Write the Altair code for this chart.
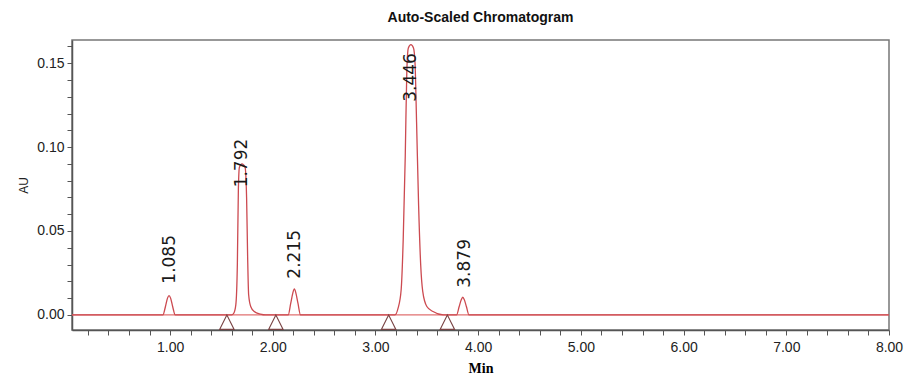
import altair as alt
import pandas as pd

# Chromatogram trace (retention time in min, absorbance in AU)
trace_min = [0.045, 0.93, 0.955, 0.975, 0.99, 1.005, 1.025, 1.05,
             1.60, 1.62, 1.64, 1.655, 1.665, 1.675, 1.70, 1.73, 1.745, 1.755, 1.765, 1.785, 1.82, 1.88, 1.93,
             2.15, 2.175, 2.195, 2.21, 2.225, 2.245, 2.27,
             3.19, 3.22, 3.25, 3.27, 3.29, 3.305, 3.32, 3.345, 3.37, 3.385, 3.40, 3.42, 3.44, 3.46, 3.50, 3.56, 3.66,
             3.79, 3.815, 3.835, 3.85, 3.865, 3.885, 3.91, 8.0]
trace_au = [0.0, 0.0, 0.005, 0.010, 0.0115, 0.010, 0.005, 0.0,
            0.0, 0.001, 0.006, 0.030, 0.075, 0.088, 0.090, 0.088, 0.070, 0.035, 0.012, 0.005, 0.002, 0.0005, 0.0,
            0.0, 0.007, 0.013, 0.0155, 0.013, 0.007, 0.0,
            0.0, 0.004, 0.015, 0.045, 0.095, 0.145, 0.159, 0.161, 0.159, 0.150, 0.115, 0.065, 0.030, 0.014, 0.005, 0.002, 0.0,
            0.0, 0.005, 0.009, 0.0105, 0.009, 0.005, 0.0, 0.0]

# Peak labels
peak_labels = ["1.085", "1.792", "2.215", "3.446", "3.879"]
label_min = [1.0, 1.70, 2.213, 3.35, 3.875]
label_au = [0.0186, 0.076, 0.0216, 0.127, 0.0162]

# Peak start / end markers on the baseline
marker_min = [1.553, 2.03, 3.128, 3.70]
marker_au = [0.0, 0.0, 0.0, 0.0]

# Baseline
base_min = [0.045, 8.0]
base_au = [0.0, 0.0]

x_ticks = [round(i * 0.2, 1) for i in range(1, 41)]
y_ticks = [round(i * 0.01, 2) for i in range(0, 17)]

trace_df = pd.DataFrame({"t": trace_min, "au": trace_au})
label_df = pd.DataFrame({"t": label_min, "au": label_au, "label": peak_labels})
marker_df = pd.DataFrame({"t": marker_min, "au": marker_au})
base_df = pd.DataFrame({"t": base_min, "au": base_au})

xscale = alt.Scale(domain=[0.045, 8.0], nice=False, zero=False)
yscale = alt.Scale(domain=[-0.009, 0.1638], nice=False, zero=False)

x_axis = alt.Axis(
    title="Min", values=x_ticks,
    labelExpr="round(datum.value*10) % 10 == 0 ? format(datum.value, '.2f') : ''",
    labelFlush=False, labelOverlap=False, labelBound=False, grid=False,
    tickSize=5, labelPadding=5, titlePadding=7,
    labelFont="Liberation Sans", labelFontSize=14, labelColor="#222",
    titleFont="Liberation Serif", titleFontSize=14, titleFontWeight="bold", titleColor="#000",
    domainColor="#555", domainWidth=1.5, tickColor="#555",
)
y_axis = alt.Axis(
    title="AU", values=y_ticks,
    labelExpr="round(datum.value*100) % 5 == 0 ? format(datum.value, '.2f') : ''",
    labelOverlap=False, labelBound=False, grid=False,
    tickSize=5, labelPadding=3, titlePadding=6,
    labelFont="Liberation Sans", labelFontSize=14, labelColor="#222",
    titleFont="Liberation Sans", titleFontSize=12, titleFontWeight="normal", titleColor="#222",
    domainColor="#555", domainWidth=1.5, tickColor="#555",
)

X = alt.X("t:Q", scale=xscale, axis=x_axis)
Y = alt.Y("au:Q", scale=yscale, axis=y_axis)

base = alt.Chart(base_df).mark_line(color="#e07070", strokeWidth=1.2).encode(x=X, y=Y)

trace = alt.Chart(trace_df).mark_line(color="#cc4a50", strokeWidth=1.3, interpolate="monotone").encode(x=X, y=Y)

markers = alt.Chart(marker_df).mark_point(
    shape="M0,0L1,2L-1,2Z", size=210, filled=False, color="#7a4444", strokeWidth=1.1, opacity=1
).encode(x=X, y=Y)

labels = alt.Chart(label_df).mark_text(
    angle=270, align="left", baseline="middle", font="DejaVu Sans", fontSize=17, color="#1a1a1a"
).encode(x=X, y=Y, text="label:N")

chart = alt.layer(base, trace, markers, labels).properties(
    width=817, height=290,
    background="white",
    title=alt.TitleParams("Auto-Scaled Chromatogram", anchor="middle", font="Liberation Sans",
                          fontSize=14, fontWeight="bold", color="#111", baseline="alphabetic", offset=3),
    autosize=alt.AutoSizeParams(type="none"),
    padding={"left": 72, "top": 40, "right": 19, "bottom": 51},
).configure_view(
    stroke="#777", strokeWidth=1.5
).configure_axis(
    labelOverlap=False
)

chart.save("out.html", embed_options={"renderer": "svg", "actions": False})
